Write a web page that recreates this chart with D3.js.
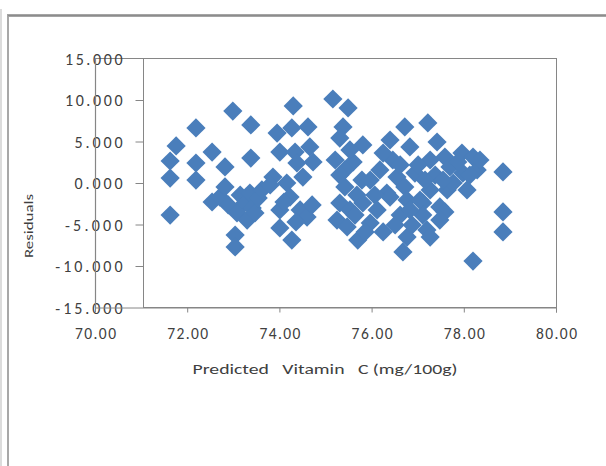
<!DOCTYPE html>
<html>
<head>
<meta charset="utf-8">
<script src="https://d3js.org/d3.v7.min.js"></script>
<style>
  body { margin: 0; background: #fff; }
  svg { display: block; }
  .lbl { font-family: Carlito, Calibri, "Open Sans", sans-serif; fill: #404040; }
</style>
</head>
<body>
<svg id="chart" width="606" height="466"></svg>
<script>
// values
var predicted = [
  71.63, 71.63, 71.63, 71.76, 72.19, 72.19, 72.19, 72.54, 72.54, 72.71,
  72.82, 72.82, 72.89, 72.99, 73.04, 73.04, 73.08, 73.15, 73.25, 73.30,
  73.36, 73.41, 73.47, 73.54, 73.38, 73.38, 73.62,
  74.30, 73.95, 74.27, 74.62, 74.01, 74.34, 74.66, 74.73, 74.38, 73.86,
  74.16, 74.51, 73.80, 74.23, 74.01, 74.45, 74.60, 74.71, 74.10, 74.01,
  74.27, 74.36,
  75.16, 75.49, 75.38, 75.31, 75.81, 75.60, 75.21, 75.79, 75.42, 75.31,
  75.53, 75.42, 75.68, 75.25, 75.47, 75.53, 75.81, 75.97, 75.70, 75.86,
  75.31, 75.64,
  76.72, 77.22, 76.40, 76.83, 76.46, 76.25, 77.42, 77.27, 77.59, 76.18,
  75.97, 76.55, 76.94, 76.33, 76.72, 76.77, 77.11, 77.27, 77.48, 77.64,
  76.25, 76.40, 76.62, 76.77, 77.05, 77.11, 77.20, 77.27, 76.68, 77.59,
  77.01, 76.62, 76.07, 76.12, 76.51, 76.88, 77.38, 77.16, 76.83,
  77.96, 78.20, 78.29, 77.98, 77.70, 78.07, 77.77, 78.13, 77.55, 77.87,
  77.48, 78.85, 78.85, 78.85, 78.20, 78.35
];
var residuals = [
  -3.92, 0.54, 2.59, 4.40, 6.57, 2.35, 0.30, 3.67, -2.35, -1.75,
  1.87, -0.54, -2.71, 8.61, -6.33, -7.77, -3.67, -1.51, -2.47, -4.52,
  -1.27, -3.07, -3.67, -1.87, 6.93, 2.95, -0.90,
  9.22, 5.96, 6.57, 6.69, 3.67, 3.67, 4.28, 2.47, 2.35, 0.66,
  -0.06, 0.66, -0.30, -1.75, -3.31, -3.31, -4.16, -2.71, -2.35, -5.48,
  -6.93, -4.76,
  10.06, 8.98, 6.69, 5.36, 4.52, 2.47, 2.71, 0.30, -0.54, -2.47,
  3.92, 1.51, -1.51, -4.52, -5.36, -3.31, -2.47, -4.88, -6.93, -5.96,
  0.90, -3.92,
  6.69, 7.17, 5.12, 4.28, 2.71, 3.55, 4.88, 2.71, 3.07, 1.51,
  0.30, 0.66, 1.14, -1.27, -0.54, -2.11, -2.47, -0.90, -2.95, -0.90,
  -5.96, -1.75, -3.92, -6.57, -2.11, -3.92, -5.72, -6.57, -8.37, -3.55,
  2.11, 2.11, -1.51, -3.31, -5.12, -5.12, 0.90, 0.30, -3.31,
  3.55, 3.07, 1.51, 1.14, 1.87, -0.90, -0.06, 0.90, 0.30, 2.47,
  -4.52, 1.27, -3.55, -5.96, -9.46, 2.71
];
var xTicks = [70, 72, 74, 76, 78, 80];
var yTicks = [15, 10, 5, 0, -5, -10, -15];
var xTitle = "Predicted\u00a0\u00a0 Vitamin\u00a0\u00a0 C (mg/100g)";
var yTitle = "Residuals";

var svg = d3.select("#chart");
var axisColor = "#868686";

var x = d3.scaleLinear().domain([70, 80]).range([95, 556]);
var y = d3.scaleLinear().domain([-15, 15]).range([307, 58]);

// plain hyphen like the original, not the unicode minus
var fmtY = function (d) { return d3.format(".3f")(d).replace("\u2212", "-"); };
var fmtX = d3.format(".2f");

// outer window frame
svg.append("line").attr("x1", 1).attr("y1", 9).attr("x2", 1).attr("y2", 466)
  .attr("stroke", "#d0d0d0").attr("stroke-width", 1.5);
svg.append("line").attr("x1", 8).attr("y1", 14).attr("x2", 8).attr("y2", 466)
  .attr("stroke", "#a8a8a8").attr("stroke-width", 2);
svg.append("line").attr("x1", 7).attr("y1", 15.5).attr("x2", 606).attr("y2", 15.5)
  .attr("stroke", "#a4a4a4").attr("stroke-width", 3);
svg.append("line").attr("x1", 8).attr("y1", 15.5).attr("x2", 606).attr("y2", 15.5)
  .attr("stroke", "#8c8c8c").attr("stroke-width", 1);

// plot area box
svg.append("rect")
  .attr("x", 143.5).attr("y", y(15) + 0.5)
  .attr("width", x(80) - 143).attr("height", y(-15) - y(15))
  .attr("fill", "none").attr("stroke", axisColor);
svg.append("line").attr("x1", x(70)).attr("x2", 143).attr("y1", y(15) + 0.5).attr("y2", y(15) + 0.5)
  .attr("stroke", axisColor);

// y axis (ticks at the box, line further left)
var yAxis = svg.append("g").attr("transform", "translate(143.5,0.5)")
  .call(d3.axisLeft(y).tickValues(yTicks).tickSize(8).tickPadding(13).tickFormat(fmtY));
yAxis.select(".domain").remove();
yAxis.selectAll(".tick line").attr("stroke", axisColor);
yAxis.selectAll(".tick text")
  .attr("class", "lbl").attr("font-size", 16)
  .attr("dy", "0.35em")
  .attr("textLength", function (d) { return fmtY(d).length * 9.6; })
  .attr("lengthAdjust", "spacing");
yAxis.selectAll(".tick").filter(function (d) { return d === 15 || d === -15; })
  .select("line").remove();

svg.append("line").attr("x1", x(70) + 0.5).attr("x2", x(70) + 0.5)
  .attr("y1", y(15)).attr("y2", y(-15) + 1)
  .attr("stroke", axisColor).attr("stroke-width", 1.2);

// x axis
var xAxis = svg.append("g").attr("transform", "translate(0," + (y(-15) + 0.5) + ")")
  .call(d3.axisBottom(x).tickValues(xTicks).tickSize(5).tickPadding(15).tickFormat(fmtX));
xAxis.select(".domain").attr("stroke", axisColor);
xAxis.selectAll(".tick line").attr("stroke", axisColor);
xAxis.selectAll(".tick").filter(function (d) { return d === 70; }).select("line").remove();
xAxis.selectAll(".tick text")
  .attr("class", "lbl").attr("font-size", 15.5)
  .attr("textLength", 41).attr("lengthAdjust", "spacing");

// axis titles
svg.append("text").attr("class", "lbl")
  .attr("x", 325).attr("y", 369).attr("dy", "0.35em")
  .attr("text-anchor", "middle").attr("font-size", 15)
  .attr("textLength", 265).attr("lengthAdjust", "spacingAndGlyphs")
  .text(xTitle);
svg.append("text").attr("class", "lbl")
  .attr("transform", "translate(28,226) rotate(-90)")
  .attr("dy", "0.35em").attr("text-anchor", "middle").attr("font-size", 13)
  .attr("textLength", 64).attr("lengthAdjust", "spacingAndGlyphs")
  .text(yTitle);

// points
var pts = predicted.map(function (p, i) { return [p, residuals[i]]; });
var diamond = d3.symbol().type(d3.symbolSquare).size(185);
svg.append("g").selectAll("path")
  .data(pts).enter()
  .append("path")
  .attr("d", diamond)
  .attr("transform", function (d) { return "translate(" + x(d[0]) + "," + y(d[1]) + ") rotate(45)"; })
  .attr("fill", "#4a7ebb");
</script>
</body>
</html>
